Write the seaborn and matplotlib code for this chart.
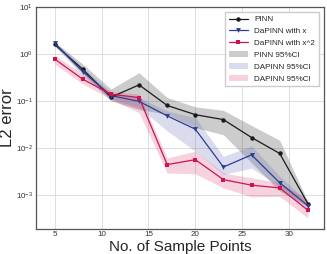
import matplotlib
matplotlib.use("Agg")
import matplotlib.pyplot as plt
import seaborn as sns
import pandas as pd

# sample points
n_points = [5, 8, 11, 14, 17, 20, 23, 26, 29, 32]

# mean L2 error
pinn = [1.6, 0.47, 0.12, 0.22, 0.08, 0.051, 0.04, 0.0166, 0.0076, 0.00065]
dapinn_x = [1.7, 0.42, 0.13, 0.098, 0.048, 0.025, 0.0039, 0.0071, 0.0018, 0.00059]
dapinn_x2 = [0.78, 0.29, 0.139, 0.118, 0.0044, 0.0056, 0.0021, 0.0016, 0.0014, 0.00047]

# 95% CI bounds
pinn_lo = [1.45, 0.39, 0.10, 0.066, 0.052, 0.027, 0.019, 0.0048, 0.0012, 0.00056]
pinn_hi = [1.8, 0.61, 0.18, 0.40, 0.118, 0.075, 0.063, 0.03, 0.0145, 0.00072]
dx_lo = [1.55, 0.34, 0.11, 0.072, 0.023, 0.0085, 0.0027, 0.0037, 0.0015, 0.00052]
dx_hi = [1.85, 0.52, 0.15, 0.118, 0.061, 0.044, 0.0066, 0.011, 0.0025, 0.00069]
dx2_lo = [0.61, 0.23, 0.11, 0.056, 0.0029, 0.0028, 0.0014, 0.0009, 0.00093, 0.00032]
dx2_hi = [0.95, 0.37, 0.16, 0.14, 0.0061, 0.0085, 0.0029, 0.0023, 0.0018, 0.0008]

df = pd.DataFrame({"n": n_points, "PINN": pinn, "DaPINN with x": dapinn_x,
                   "DaPINN with x^2": dapinn_x2})

sns.set_style("whitegrid")
plt.rcParams["font.family"] = ["Liberation Sans", "DejaVu Sans"]
plt.rcParams["mathtext.fontset"] = "custom"
plt.rcParams["mathtext.rm"] = "Liberation Sans"

fig, ax = plt.subplots(figsize=(3.27, 2.54), dpi=100)

c_pinn, c_x, c_x2 = "#1a1a1a", "#2f3b93", "#cc1450"

sns.lineplot(data=df, x="n", y="PINN", ax=ax, color=c_pinn, marker="o",
             markersize=3.2, markeredgewidth=0, linewidth=0.9, label="PINN")
sns.lineplot(data=df, x="n", y="DaPINN with x", ax=ax, color=c_x, marker="v",
             markersize=3.5, markeredgewidth=0, linewidth=0.9, label="DaPINN with x")
sns.lineplot(data=df, x="n", y="DaPINN with x^2", ax=ax, color=c_x2, marker="s",
             markersize=3.2, markeredgewidth=0, linewidth=0.9, label="DaPINN with x^2")

ax.fill_between(n_points, pinn_lo, pinn_hi, color="#444444", alpha=0.27,
                linewidth=0, label="PINN 95%CI")
ax.fill_between(n_points, dx_lo, dx_hi, color="#5a64b4", alpha=0.22,
                linewidth=0, label="DAPINN 95%CI")
ax.fill_between(n_points, dx2_lo, dx2_hi, color="#d6336c", alpha=0.22,
                linewidth=0, label="DAPINN 95%CI")

ax.set_yscale("log")
ax.set_ylim(1.9e-4, 10)
ax.set_xlim(3, 33.7)
ax.set_xticks([5, 10, 15, 20, 25, 30])
ax.tick_params(labelsize=5.8, colors="#333333", length=0, pad=2)
ax.minorticks_off()
ax.grid(True, color="#dddddd", linewidth=0.7)

for s in ax.spines.values():
    s.set_color("#555555")
    s.set_linewidth(0.9)

ax.set_xlabel("No. of Sample Points", fontsize=11, labelpad=1)
ax.set_ylabel("L2 error", fontsize=12)
ax.yaxis.set_label_coords(-0.074, 0.5)

ax.legend(loc="upper right", fontsize=5.9, frameon=True, framealpha=1,
          edgecolor="#cccccc", fancybox=False, borderpad=0.45, labelspacing=0.5,
          handlelength=2.3, borderaxespad=0.6)

fig.subplots_adjust(left=0.11, right=0.99, top=0.972, bottom=0.1)
fig.savefig("out.png", dpi=100)
